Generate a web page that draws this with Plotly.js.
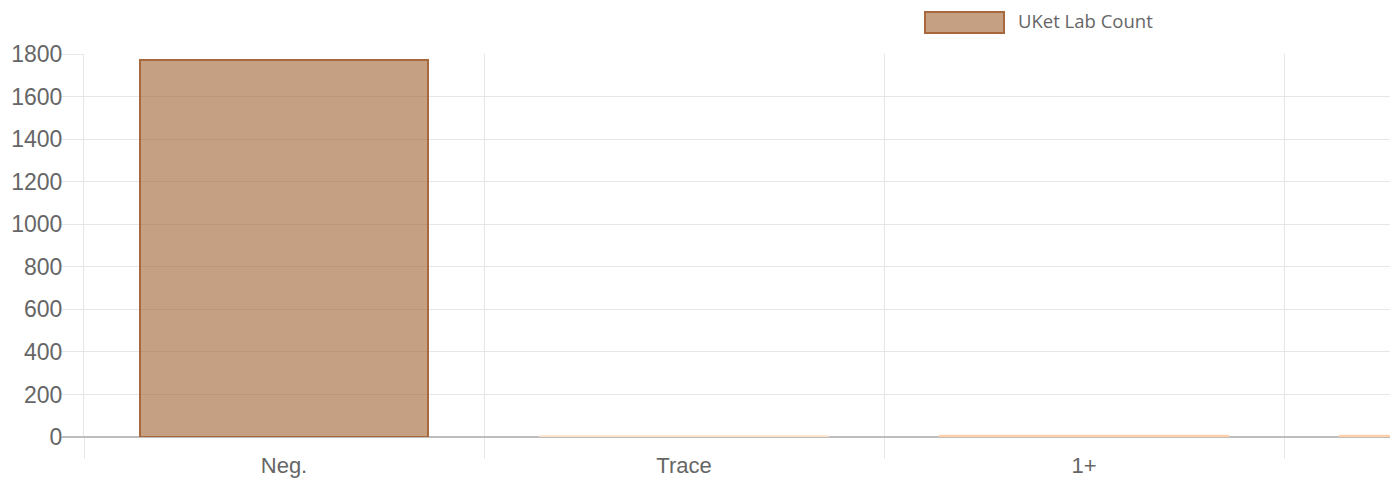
<!DOCTYPE html>
<html>
<head>
<meta charset="utf-8">
<script src="https://cdn.plot.ly/plotly-3.0.1.min.js"></script>
<style>
  html, body { margin: 0; padding: 0; background: #fff; }
  #chart { width: 1390px; height: 480px; }
</style>
</head>
<body>
<div id="chart"></div>
<script>
// Data
const categories = ["Neg.", "Trace", "1+", "2+"];
const labCounts = [1772, 3, 6, 6];
const seriesName = "UKet Lab Count";
const fillColors = ["rgba(160,96,48,0.6)", "rgba(253,205,170,0.4)", "rgba(253,195,150,0.5)", "rgba(253,195,150,0.5)"];
const lineColors = ["#a9683b", "#fde0c8", "#fdd0ab", "#fdd0ab"];
const yTicks = [0, 200, 400, 600, 800, 1000, 1200, 1400, 1600, 1800];

const W = 1390, H = 480, L = 84, R = 0, T = 54, B = 43;
const pw = W - L - R, ph = H - T - B;
const px = v => (v - L) / pw;
const py = v => (H - B - v) / ph;

const trace = {
  type: "bar",
  x: categories,
  y: labCounts,
  name: seriesName,
  width: 0.72,
  marker: { color: fillColors, line: { color: lineColors, width: 2 } },
  showlegend: false,
  hoverinfo: "x+y"
};

const grid = "#e6e6e6";
const layout = {
  width: W, height: H,
  margin: { l: L, r: R, t: T, b: B, pad: 0 },
  paper_bgcolor: "#fff",
  plot_bgcolor: "#fff",
  font: { family: "Liberation Sans, Arial, sans-serif", color: "#666", size: 21 },
  xaxis: {
    type: "category",
    range: [-0.5, -0.5 + pw / 400],
    tickson: "boundaries",
    ticks: "outside",
    ticklen: 21,
    tickcolor: grid,
    tickwidth: 1,
    showgrid: true,
    gridcolor: grid,
    gridwidth: 1,
    showline: false,
    zeroline: false,
    tickfont: { size: 22, color: "#666" },
    ticklabelstandoff: 13,
    fixedrange: true
  },
  yaxis: {
    range: [0, 1800],
    tickvals: yTicks,
    ticks: "outside",
    ticklen: 22,
    tickcolor: grid,
    tickwidth: 1,
    showgrid: true,
    gridcolor: grid,
    gridwidth: 1,
    showline: true,
    linecolor: grid,
    linewidth: 1,
    zeroline: true,
    zerolinecolor: "#bdbdbd",
    zerolinewidth: 2,
    tickfont: { size: 23, color: "#666" },
    ticklabelstandoff: -6,
    fixedrange: true
  },
  shapes: [
    {
      type: "rect", xref: "paper", yref: "paper",
      x0: px(925), x1: px(1004), y0: py(33), y1: py(12),
      fillcolor: "rgba(160,96,48,0.6)",
      line: { color: "#a9683b", width: 2 }
    },
    {
      type: "line", xref: "paper", yref: "paper",
      x0: px(62), x1: 0, y0: 0, y1: 0,
      line: { color: "#bdbdbd", width: 2 }
    }
  ],
  annotations: [
    {
      xref: "paper", yref: "paper",
      x: px(1016), y: py(21),
      xanchor: "left", yanchor: "middle",
      text: seriesName,
      showarrow: false,
      font: { family: "Open Sans, sans-serif", size: 18.5, color: "#666" }
    }
  ]
};

Plotly.newPlot("chart", [trace], layout, { displayModeBar: false, staticPlot: true });
</script>
</body>
</html>
